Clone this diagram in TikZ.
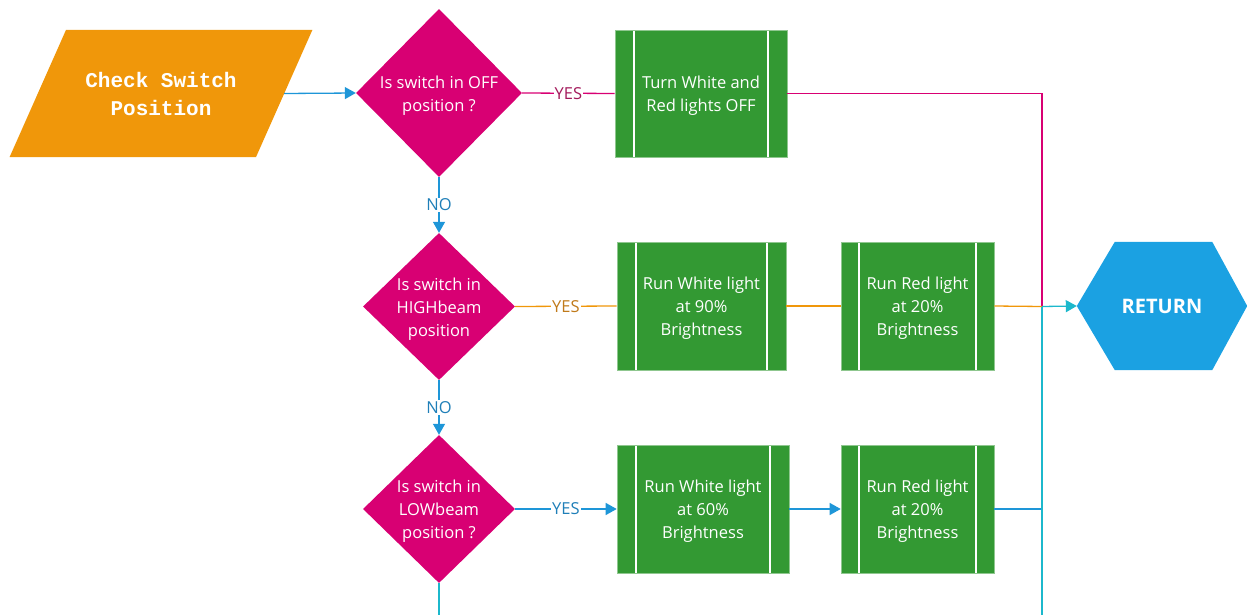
\documentclass[tikz,border=0pt]{standalone}
\usepackage{fontspec}
\setmainfont{Open Sans}
\newfontfamily\monofont{Liberation Mono}
\usetikzlibrary{shapes.geometric,arrows.meta,calc,backgrounds}

\definecolor{cOrange}{HTML}{F0970A}
\definecolor{cMag}{HTML}{D80073}
\definecolor{cMagTxt}{HTML}{A3195B}
\definecolor{cGreen}{HTML}{339933}
\definecolor{cBlue}{HTML}{1BA1E2}
\definecolor{cLine}{HTML}{1E96D8}
\definecolor{cTeal}{HTML}{1CB8CC}
\definecolor{cOrTxt}{HTML}{C07A1A}
\definecolor{cLineTxt}{HTML}{1F7FB8}

\tikzset{
  body/.style={font=\fontsize{16.5}{23}\selectfont},
  decision/.style={diamond, fill=cMag, inner sep=0pt},
  dtext/.style={body, text=white, align=center, inner sep=0pt, yshift=-2.5pt},
  process/.style={rectangle, fill=cGreen, draw=cGreen!55!white, line width=0.6pt,
    body, text=white, align=center, inner sep=0pt, minimum height=128pt,
    text depth=0pt,
    path picture={
      \draw[white, line width=1.3pt]
        ([xshift=#1]path picture bounding box.north west) --
        ([xshift=#1]path picture bounding box.south west)
        ([xshift=-#1]path picture bounding box.north east) --
        ([xshift=-#1]path picture bounding box.south east);
    }},
  process/.default=19pt,
  ptext/.style={body, text=white, align=center, inner sep=0pt, yshift=-2pt},
  wire/.style={line width=1.3pt},
  flow/.style={wire, -{Triangle[length=11pt,width=12pt]}},
  lbl/.style={body, fill=white, inner sep=1pt}
}

\begin{document}
\begin{tikzpicture}[x=1pt,y=-1pt]
\useasboundingbox (0,0) rectangle (1247,615);

% input block
\node[minimum width=246pt, minimum height=127pt, inner sep=0pt,
      font=\monofont\bfseries\fontsize{21}{28}\selectfont, text=white, align=center]
  (chk) at (161,93.5) {Check Switch\\Position};

% decisions
\node[decision, minimum width=166pt, minimum height=168pt] (d1) at (439,93) {};
\node[dtext] (d1t) at (d1) {Is switch in OFF\\position ?};
\node[decision, minimum width=152pt, minimum height=147pt] (d2) at (439,306.5) {};
\node[dtext] (d2t) at (d2) {Is switch in\\HIGHbeam\\position};
\node[decision, minimum width=152pt, minimum height=148pt] (d3) at (439,509) {};
\node[dtext] (d3t) at (d3) {Is switch in\\LOWbeam\\position ?};

% predefined processes
\node[process, minimum width=172pt, minimum height=127pt] (b1) at (701,93.5) {};
\node[ptext] (b1t) at (b1) {Turn White and\\Red lights OFF};
\node[process, minimum width=169pt] (b2) at (701.5,306) {};
\node[ptext] (b2t) at (b2) {Run White light\\at 90\%\\Brightness};
\node[process=18pt, minimum width=153pt] (b3) at (917.5,306) {};
\node[ptext] (b3t) at (b3) {Run Red light\\at 20\%\\Brightness};
\node[process, minimum width=172pt] (b4) at (703,509) {};
\node[ptext] (b4t) at (b4) {Run White light\\at 60\%\\Brightness};
\node[process=18pt, minimum width=153pt] (b5) at (917.5,509) {};
\node[ptext] (b5t) at (b5) {Run Red light\\at 20\%\\Brightness};

% terminator
\node[minimum width=170pt, minimum height=128pt, inner sep=0pt,
      font=\bfseries\fontsize{20}{24}\selectfont, text=white] (ret) at (1162,306) {RETURN};

\begin{scope}[on background layer]
  \fill[cOrange] ($(chk.north west)+(28.25,0)$) -- ($(chk.north east)+(28.25,0)$)
    -- ($(chk.south east)+(-28.25,0)$) -- ($(chk.south west)+(-28.25,0)$) -- cycle;
  \fill[cBlue] (ret.west) -- ($(ret.north west)+(38,0)$) -- ($(ret.north east)+(-35,0)$)
    -- (ret.east) -- ($(ret.south east)+(-35,0)$) -- ($(ret.south west)+(38,0)$) -- cycle;
\end{scope}

% junction points
\coordinate (jn) at (1042,306.5);
\coordinate (jbot) at (1042,615);
\coordinate (dbot) at (439,615);

% connectors
\draw[flow, cLine] (chk.east) -- (d1.west);
\draw[wire, cMag] (d1.east) -- node[lbl, text=cMagTxt] {YES} (b1.west);
\draw[wire, cMag] (b1.east) -| (jn);
\draw[flow, cLine] (d1.south) -- node[lbl, text=cLineTxt] {NO} (d2.north);

\draw[wire, cOrange] (d2.east) -- node[lbl, text=cOrTxt] {YES} (b2.west);
\draw[wire, cOrange] (b2.east) -- (b3.west);
\draw[wire, cOrange] (b3.east) -- (jn);
\draw[flow, cTeal] (jn) -- (ret.west);
\draw[flow, cLine] (d2.south) -- node[lbl, text=cLineTxt] {NO} (d3.north);

\draw[flow, cLine] (d3.east) -- node[lbl, text=cLineTxt] {YES} (b4.west);
\draw[flow, cLine] (b4.east) -- (b5.west);
\draw[wire, cLine] (b5.east) -- (b5.east -| jn);
\draw[wire, cTeal] (jn) -- (jbot);
\draw[wire, cTeal] (d3.south) -- (dbot);
\end{tikzpicture}
\end{document}
